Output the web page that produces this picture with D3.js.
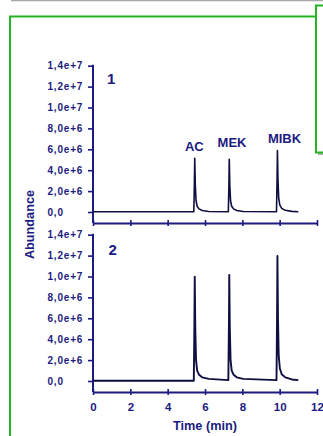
<!DOCTYPE html>
<html><head><meta charset="utf-8">
<script src="https://cdn.jsdelivr.net/npm/d3@7"></script>
<style>
html,body{margin:0;padding:0;background:#fff;}
svg{display:block;}
text{font-family:"Liberation Sans",Arial,sans-serif;font-weight:bold;}
</style></head>
<body>
<script>
// ---- data ----
const timeMin = [0, 5.40, 5.43, 5.45, 5.48, 5.52, 5.58, 5.68, 5.85, 6.20,
                 7.25, 7.28, 7.30, 7.33, 7.37, 7.43, 7.53, 7.70, 8.05,
                 9.83, 9.86, 9.88, 9.91, 9.95, 10.01, 10.11, 10.30, 10.65, 11.0];
const abundance1 = [0.02e6, 0.02e6, 2.5e6, 5.14e6, 2.6e6, 1.1e6, 0.55e6, 0.3e6, 0.15e6, 0.05e6,
                    0.03e6, 2.5e6, 5.04e6, 2.5e6, 1.05e6, 0.55e6, 0.3e6, 0.15e6, 0.05e6,
                    0.03e6, 3.0e6, 5.87e6, 3.0e6, 1.3e6, 0.65e6, 0.35e6, 0.16e6, 0.06e6, 0.03e6];
const abundance2 = [0.02e6, 0.02e6, 5.0e6, 9.98e6, 5.0e6, 2.0e6, 1.0e6, 0.6e6, 0.35e6, 0.2e6,
                    0.08e6, 5.0e6, 10.14e6, 5.0e6, 2.0e6, 1.0e6, 0.6e6, 0.35e6, 0.2e6,
                    0.08e6, 6.0e6, 11.96e6, 6.0e6, 2.4e6, 1.2e6, 0.65e6, 0.35e6, 0.15e6, 0.08e6];
const peakNames = ["AC", "MEK", "MIBK"];
const peakLabelTime = [5.43, 7.45, 10.26];
const peakLabelValue = [5.84e6, 6.25e6, 6.63e6];
const yTickValues = [0, 2e6, 4e6, 6e6, 8e6, 1e7, 1.2e7, 1.4e7];
const yTickLabels = ["0,0", "2,0e+6", "4,0e+6", "6,0e+6", "8,0e+6", "1,0e+7", "1,2e+7", "1,4e+7"];
const xTickValues = [0, 2, 4, 6, 8, 10, 12];
const panelNames = ["1", "2"];
const xTitle = "Time (min)";
const yTitle = "Abundance";

// ---- drawing ----
const W = 323, H = 436;
const navy = "#1b1b80", green = "#22b422", trace = "#0e0e40";
const svg = d3.select("body").append("svg").attr("width", W).attr("height", H);

// decorations
svg.append("line").attr("x1", 11).attr("x2", 323).attr("y1", 0.5).attr("y2", 0.5)
  .attr("stroke", "#a8a8a8").attr("stroke-width", 1.5);
svg.append("path").attr("d", "M10,437V16.5H315").attr("fill", "none")
  .attr("stroke", green).attr("stroke-width", 2);
svg.append("path").attr("d", "M318,154H330").attr("stroke", "#b0b0b0").attr("stroke-width", 2);
svg.append("rect").attr("x", 316).attr("y", 5.5).attr("width", 20).attr("height", 147)
  .attr("fill", "#fff").attr("stroke", green).attr("stroke-width", 2);

const x = d3.scaleLinear().domain([0, 12]).range([93, 317]);
const panels = [
  { y: d3.scaleLinear().domain([0, 1.4e7]).range([212, 65.7]), axisY: 223, vals: abundance1, labelY: 84, showX: false },
  { y: d3.scaleLinear().domain([0, 1.4e7]).range([381, 234.7]), axisY: 392, vals: abundance2, labelY: 255, showX: true }
];

panels.forEach((p, i) => {
  const g = svg.append("g");
  // y axis
  const ya = g.append("g").attr("transform", `translate(${x(0)},0)`)
    .call(d3.axisLeft(p.y).tickValues(yTickValues).tickSize(5).tickSizeOuter(0)
      .tickFormat((d, k) => yTickLabels[k]));
  ya.select(".domain").remove();
  ya.selectAll(".tick line").attr("stroke", navy).attr("stroke-width", 1.6);
  ya.selectAll(".tick text").attr("x", -45.5).attr("text-anchor", "start")
    .attr("fill", navy).style("font-size", "10px").style("letter-spacing", "0.8px")
    .style("font-family", "'Liberation Sans',Arial,sans-serif").style("font-weight", "bold");
  g.append("line").attr("x1", x(0)).attr("x2", x(0)).attr("y1", p.y(1.4e7) - 1).attr("y2", p.axisY)
    .attr("stroke", navy).attr("stroke-width", 2);

  // x axis
  const xa = g.append("g").attr("transform", `translate(0,${p.axisY})`)
    .call(d3.axisBottom(x).tickValues(xTickValues).tickSize(3).tickSizeOuter(0).tickPadding(8));
  xa.select(".domain").attr("stroke", navy).attr("stroke-width", 2);
  xa.selectAll(".tick line").attr("y1", -3).attr("stroke", navy).attr("stroke-width", 1.6);
  if (p.showX) {
    xa.selectAll(".tick text").attr("fill", navy).style("font-size", "11.5px")
      .style("font-family", "'Liberation Sans',Arial,sans-serif").style("font-weight", "bold");
  } else {
    xa.selectAll(".tick text").remove();
  }

  // trace
  const line = d3.line().x(d => x(d[0])).y(d => p.y(d[1]));
  g.append("path").datum(timeMin.map((t, k) => [t, p.vals[k]]))
    .attr("d", line).attr("fill", "none").attr("stroke", trace)
    .attr("stroke-width", i === 0 ? 1.6 : 1.9).attr("stroke-linejoin", "round");

  // panel label
  g.append("text").attr("x", 107 + i * 1.5).attr("y", p.labelY).attr("fill", navy)
    .style("font-size", "15px").text(panelNames[i]);

  if (i === 0) {
    g.selectAll(".peaklab").data(peakNames).enter().append("text")
      .attr("x", (d, k) => x(peakLabelTime[k])).attr("y", (d, k) => p.y(peakLabelValue[k]))
      .attr("text-anchor", "middle").attr("fill", navy).style("font-size", "13px").text(d => d);
  }
});

svg.append("text").attr("x", (x(0) + x(12)) / 2).attr("y", 429.5).attr("text-anchor", "middle")
  .attr("fill", navy).style("font-size", "12.7px").text(xTitle);
svg.append("text").attr("transform", "translate(33.5,224.5) rotate(-90)").attr("text-anchor", "middle")
  .attr("fill", navy).style("font-size", "12.7px").text(yTitle);
</script>
</body></html>
